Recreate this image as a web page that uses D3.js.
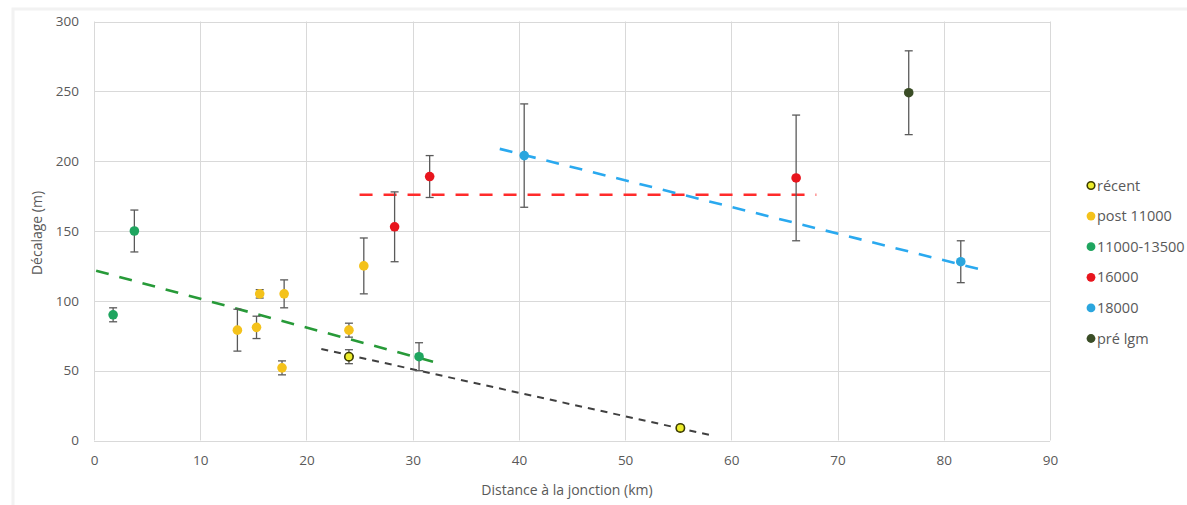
<!DOCTYPE html>
<html>
<head>
<meta charset="utf-8">
<script src="https://cdn.jsdelivr.net/npm/d3@7"></script>
<style>
  html, body { margin: 0; padding: 0; background: #ffffff; }
  svg { display: block; font-family: "Open Sans", "DejaVu Sans", sans-serif; }
</style>
</head>
<body>
<svg id="chart" width="1187" height="505"></svg>
<script>
// ---- Data ----
const seriesNames = ["récent", "post 11000", "11000-13500", "16000", "18000", "pré lgm"];
const seriesColors = ["#ecec2a", "#f4c21b", "#1fa55f", "#e8151d", "#2ba6de", "#3a4d26"];

const recentX = [24.0, 55.2];
const recentY = [60, 9];
const recentErr = [5, 2];

const post11000X = [13.5, 15.3, 15.6, 17.7, 17.9, 24.0, 25.4];
const post11000Y = [79, 81, 105, 52, 105, 79, 125];
const post11000Err = [15, 8, 3, 5, 10, 5, 20];

const g11000X = [1.8, 3.8, 30.6];
const g11000Y = [90, 150, 60];
const g11000Err = [5, 15, 10];

const s16000X = [28.3, 31.6, 66.1];
const s16000Y = [153, 189, 188];
const s16000Err = [25, 15, 45];

const s18000X = [40.5, 81.6];
const s18000Y = [204, 128];
const s18000Err = [37, 15];

const preLgmX = [76.7];
const preLgmY = [249];
const preLgmErr = [30];

// trendlines (dashed), endpoints
const trendNames  = ["11000-13500", "récent", "16000", "18000"];
const trendColors = ["#279a38", "#404040", "#ff2b2b", "#2aa9ef"];
const trendStartX = [0.2, 21.4, 25.0, 38.2];
const trendStartY = [121.6, 65.5, 176, 208.8];
const trendEndX   = [32.8, 58.0, 68.0, 83.7];
const trendEndY   = [54.6, 3.9, 176, 122];

const xTicks = [0, 10, 20, 30, 40, 50, 60, 70, 80, 90];
const yTicks = [0, 50, 100, 150, 200, 250, 300];
const xTitle = "Distance à la jonction (km)";
const yTitle = "Décalage (m)";

// ---- Build ----
const seriesX = [recentX, post11000X, g11000X, s16000X, s18000X, preLgmX];
const seriesY = [recentY, post11000Y, g11000Y, s16000Y, s18000Y, preLgmY];
const seriesE = [recentErr, post11000Err, g11000Err, s16000Err, s18000Err, preLgmErr];

const svg = d3.select("#chart");
const plot = { left: 94, right: 1050, top: 21.5, bottom: 440.5 };

const x = d3.scaleLinear().domain([0, 90]).range([plot.left, plot.right]);
const y = d3.scaleLinear().domain([0, 300]).range([plot.bottom, plot.top]);

// faint outer frame
svg.append("path")
  .attr("d", `M13,505 L13,9 L1187,9`)
  .attr("fill", "none").attr("stroke", "#f2f2f2").attr("stroke-width", 3);

const textColor = "#595959";
const gridColor = "#d9d9d9";

// gridlines
const grid = svg.append("g");
grid.selectAll("line.h").data(yTicks).join("line")
  .attr("x1", plot.left).attr("x2", plot.right)
  .attr("y1", d => Math.round(y(d)) + 0.5).attr("y2", d => Math.round(y(d)) + 0.5)
  .attr("stroke", gridColor).attr("stroke-width", 1);
grid.selectAll("line.v").data(xTicks).join("line")
  .attr("y1", plot.top).attr("y2", plot.bottom)
  .attr("x1", d => Math.round(x(d)) + 0.5).attr("x2", d => Math.round(x(d)) + 0.5)
  .attr("stroke", gridColor).attr("stroke-width", 1);

// axes via d3 axis (labels only)
const xAxis = svg.append("g").attr("transform", `translate(0,${plot.bottom})`)
  .call(d3.axisBottom(x).tickValues(xTicks).tickSize(0).tickPadding(15));
const yAxis = svg.append("g").attr("transform", `translate(${plot.left},0)`)
  .call(d3.axisLeft(y).tickValues(yTicks).tickSize(0).tickPadding(15));
[xAxis, yAxis].forEach(a => {
  a.select(".domain").remove();
  a.selectAll("text").attr("fill", textColor).style("font-size", "13.5px")
    .style("font-family", '"Open Sans", sans-serif');
});

// axis titles
svg.append("text").attr("x", (plot.left + plot.right) / 2 - 5).attr("y", 495)
  .attr("text-anchor", "middle").attr("fill", textColor).style("font-size", "14px")
  .text(xTitle);
svg.append("text").attr("transform", `translate(42,233) rotate(-90)`)
  .attr("text-anchor", "middle").attr("fill", textColor).style("font-size", "14px")
  .text(yTitle);

// trendlines
svg.append("g").selectAll("line").data(trendNames).join("line")
  .attr("x1", (d, i) => x(trendStartX[i])).attr("y1", (d, i) => y(trendStartY[i]))
  .attr("x2", (d, i) => x(trendEndX[i])).attr("y2", (d, i) => y(trendEndY[i]))
  .attr("stroke", (d, i) => trendColors[i])
  .attr("stroke-width", (d, i) => d === "récent" ? 2 : 2.6)
  .attr("stroke-dasharray", (d, i) => d === "récent" ? "7,6" : "13,11");

// points with error bars
const pts = [];
seriesNames.forEach((name, si) => {
  seriesX[si].forEach((xv, j) => pts.push({ s: si, name, x: xv, y: seriesY[si][j], e: seriesE[si][j] }));
});

const eb = svg.append("g");
const capW = 4;
pts.forEach(p => {
  const g = eb.append("g").attr("stroke", "#5a5a5a").attr("stroke-width", 1.3);
  g.append("line").attr("x1", x(p.x)).attr("x2", x(p.x)).attr("y1", y(p.y - p.e)).attr("y2", y(p.y + p.e));
  g.append("line").attr("x1", x(p.x) - capW).attr("x2", x(p.x) + capW).attr("y1", y(p.y + p.e)).attr("y2", y(p.y + p.e));
  g.append("line").attr("x1", x(p.x) - capW).attr("x2", x(p.x) + capW).attr("y1", y(p.y - p.e)).attr("y2", y(p.y - p.e));
});

svg.append("g").selectAll("circle").data(pts).join("circle")
  .attr("cx", d => x(d.x)).attr("cy", d => y(d.y))
  .attr("r", d => d.s === 0 ? 4.2 : 4.8)
  .attr("fill", d => seriesColors[d.s])
  .attr("stroke", d => d.s === 0 ? "#3d3d00" : "none")
  .attr("stroke-width", d => d.s === 0 ? 1.6 : 0);

// legend
const legend = svg.append("g");
const lg = legend.selectAll("g").data(seriesNames).join("g")
  .attr("transform", (d, i) => `translate(1091,${185.5 + i * 30.6})`);
lg.append("circle").attr("r", (d, i) => i === 0 ? 3.8 : 4.4)
  .attr("fill", (d, i) => seriesColors[i])
  .attr("stroke", (d, i) => i === 0 ? "#3d3d00" : "none")
  .attr("stroke-width", (d, i) => i === 0 ? 1.6 : 0);
lg.append("text").attr("x", 6).attr("dy", "0.35em")
  .attr("fill", textColor).style("font-size", "14.5px").text(d => d);
</script>
</body>
</html>
